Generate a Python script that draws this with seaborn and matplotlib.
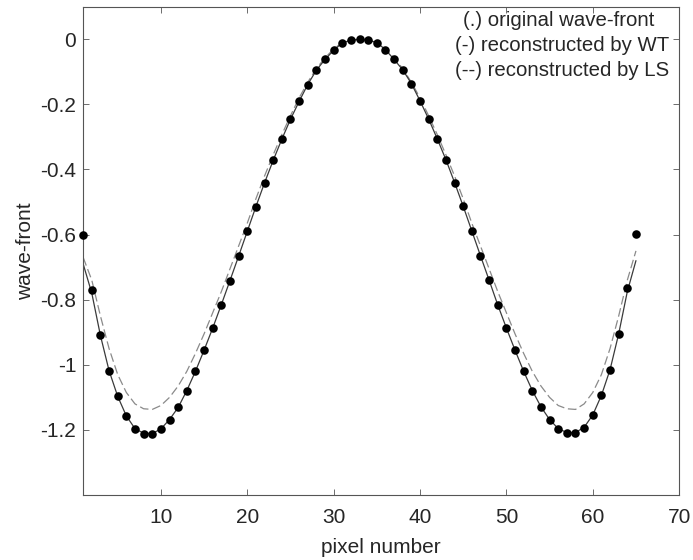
import matplotlib
matplotlib.use("Agg")
from matplotlib import pyplot as plt
import pandas as pd
import seaborn as sns

# pixel positions
pixels = list(range(1, 66))

# original wave-front (dots)
original = [-0.600, -0.770, -0.908, -1.018, -1.097, -1.157, -1.196, -1.211, -1.212, -1.198,
            -1.168, -1.131, -1.079, -1.020, -0.955, -0.887, -0.815, -0.741, -0.666, -0.590,
            -0.514, -0.441, -0.372, -0.307, -0.246, -0.191, -0.139, -0.095, -0.062, -0.034,
            -0.011, -0.003, 0.000, -0.003, -0.010, -0.032, -0.062, -0.094, -0.136, -0.189,
            -0.245, -0.306, -0.370, -0.440, -0.513, -0.589, -0.665, -0.740, -0.816, -0.887,
            -0.955, -1.020, -1.079, -1.129, -1.168, -1.197, -1.209, -1.209, -1.193, -1.154,
            -1.094, -1.015, -0.905, -0.764, -0.599]

# reconstructed by WT (solid)
wt = [-0.690, -0.780, -0.910, -1.018, -1.097, -1.157, -1.196, -1.210, -1.211, -1.197,
      -1.168, -1.131, -1.079, -1.020, -0.955, -0.887, -0.815, -0.741, -0.666, -0.590,
      -0.514, -0.441, -0.372, -0.307, -0.246, -0.191, -0.139, -0.095, -0.062, -0.034,
      -0.011, -0.003, 0.000, -0.003, -0.010, -0.032, -0.062, -0.094, -0.136, -0.189,
      -0.245, -0.306, -0.370, -0.440, -0.513, -0.589, -0.665, -0.740, -0.816, -0.887,
      -0.955, -1.020, -1.079, -1.129, -1.168, -1.196, -1.208, -1.208, -1.192, -1.154,
      -1.094, -1.015, -0.905, -0.775, -0.680]

# reconstructed by LS (dashed)
ls = [-0.670, -0.740, -0.850, -0.950, -1.030, -1.085, -1.120, -1.135, -1.137, -1.125,
      -1.100, -1.065, -1.020, -0.965, -0.905, -0.840, -0.775, -0.705, -0.635, -0.565,
      -0.490, -0.420, -0.355, -0.293, -0.235, -0.180, -0.132, -0.090, -0.057, -0.030,
      -0.010, -0.002, 0.000, -0.002, -0.010, -0.030, -0.057, -0.090, -0.132, -0.180,
      -0.235, -0.293, -0.355, -0.420, -0.490, -0.565, -0.635, -0.705, -0.775, -0.840,
      -0.905, -0.965, -1.020, -1.065, -1.100, -1.125, -1.135, -1.137, -1.120, -1.085,
      -1.030, -0.950, -0.850, -0.740, -0.650]

legend_lines = ["(.) original wave-front", "(-) reconstructed by WT", "(--) reconstructed by LS"]
xticks = [10, 20, 30, 40, 50, 60, 70]
yticks = [-1.2, -1.0, -0.8, -0.6, -0.4, -0.2, 0.0]
ytick_labels = ["-1.2", "-1", "-0.8", "-0.6", "-0.4", "-0.2", "0"]

df = pd.DataFrame({"pixel": pixels, "original": original, "WT": wt, "LS": ls})

sns.set_style("ticks")
plt.rcParams["font.family"] = ["Liberation Sans", "DejaVu Sans"]

fig, ax = plt.subplots(figsize=(6.93, 5.6), dpi=100)
fig.subplots_adjust(left=0.12, right=0.98, top=0.988, bottom=0.116)

sns.lineplot(data=df, x="pixel", y="LS", ax=ax, color="#8a8a8a", linewidth=0.9,
             dashes=False, linestyle=(0, (7, 3)))
sns.lineplot(data=df, x="pixel", y="WT", ax=ax, color="#3a3a3a", linewidth=0.9)
sns.scatterplot(data=df, x="pixel", y="original", ax=ax, color="black", s=38,
                edgecolor="black", linewidth=0, zorder=5, clip_on=False)

ax.set_xlim(1, 70)
ax.set_ylim(-1.4, 0.1)
ax.set_xticks(xticks)
ax.set_yticks(yticks)
ax.set_yticklabels(ytick_labels)
ax.tick_params(direction="in", length=4, width=0.6, color="#555555",
               top=True, right=True, labelsize=15)
ax.tick_params(axis="x", pad=9)
ax.tick_params(axis="y", pad=5)
for sp in ax.spines.values():
    sp.set_linewidth(0.8)
    sp.set_color("#555555")

ax.set_xlabel("pixel number", fontsize=15, labelpad=8)
ax.set_ylabel("wave-front", fontsize=15, labelpad=4)

for i, txt in enumerate(legend_lines):
    x0 = 45.0 if i == 0 else 44.1
    ax.text(x0, 0.058 - 0.077 * i, txt, fontsize=14.7, va="center", ha="left")

fig.savefig("out.png", dpi=100)
